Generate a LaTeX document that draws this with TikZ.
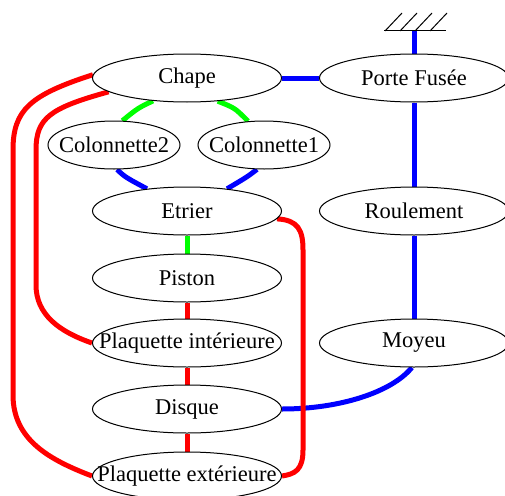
\documentclass[tikz,border=0pt]{standalone}
\usepackage{fontspec}
\setmainfont{Liberation Serif}
\usetikzlibrary{shapes.geometric,backgrounds}
\definecolor{lred}{RGB}{255,0,0}
\definecolor{lgreen}{RGB}{0,255,0}
\definecolor{lblue}{RGB}{0,0,255}
\newcommand{\zlab}[1]{\makebox[0pt]{#1}}
\begin{document}
\begin{tikzpicture}[x=1pt,y=-1pt,
  nd/.style={ellipse,draw,line width=1pt,fill=white,inner sep=0pt,minimum height=48pt,font=\fontsize{22.5}{24}\selectfont},
  wide/.style={nd,minimum width=189pt},
  narrow/.style={nd,minimum width=132pt},
  lnk/.style={line width=5pt},
  rlnk/.style={lnk,draw=lred},
  glnk/.style={lnk,draw=lgreen},
  blnk/.style={lnk,draw=lblue},
  gnd/.style={line width=1pt,draw=black}]
\useasboundingbox (0,0) rectangle (505,495);
\node[wide] (chape) at (187,78) {\zlab{Chape}};
\node[wide] (porte) at (414,78) {\zlab{Porte Fusée}};
\node[narrow] (col2) at (114,145) {\zlab{Colonnette2}};
\node[narrow] (col1) at (264,145) {\zlab{Colonnette1}};
\node[wide] (etrier) at (187,211) {\zlab{Etrier}};
\node[wide] (roul) at (414,211) {\zlab{Roulement}};
\node[wide] (piston) at (187,278) {\zlab{Piston}};
\node[wide] (pint) at (187,343) {\zlab{Plaquette intérieure}};
\node[wide] (moyeu) at (414,343) {\zlab{Moyeu}};
\node[wide] (disque) at (187,409) {\zlab{Disque}};
\node[wide] (pext) at (187,476) {\zlab{Plaquette extérieure}};
% ground
\coordinate (g) at (414,31);
\coordinate (gl) at (384,31);
\coordinate (gr) at (446,31);
\draw[gnd] (gl) -- (gr);
\foreach \xx in {385,400,415,430}{
  \draw[gnd] (\xx,31) -- (\xx+17,13);
}
\begin{pgfonlayer}{background}
% blue
\draw[blnk] (g) -- (porte.north);
\draw[blnk] (chape) -- (porte);
\draw[blnk] (porte) -- (roul);
\draw[blnk] (roul) -- (moyeu);
\draw[blnk] (col2.277) .. controls (125,177) .. (etrier.151);
\draw[blnk] (col1.254) .. controls (247,177) .. (etrier.29);
\draw[blnk] (moyeu.265) .. controls (392,392) and (340,409) .. (disque.east);
% green
\draw[glnk] (chape.214) .. controls (138,108) .. (col2.71);
\draw[glnk] (chape.323) .. controls (235,108) .. (col1.124);
\draw[glnk] (etrier) -- (piston);
% red
\draw[rlnk] (piston) -- (pint);
\draw[rlnk] (pint) -- (disque);
\draw[rlnk] (disque) -- (pext);
\draw[rlnk] (chape.178) .. controls (30,95) and (13,110) .. (13,150) -- (13,395) .. controls (13,440) and (50,460) .. (pext.west);
\draw[rlnk] (chape.190) .. controls (50,108) and (36,118) .. (36,150) -- (36,285) .. controls (36,315) and (60,332) .. (pint.west);
\draw[rlnk] (etrier.355) .. controls (298,220) and (303,230) .. (303,250) -- (303,450) .. controls (303,470) and (295,474) .. (pext.east);
\end{pgfonlayer}
\end{tikzpicture}
\end{document}
